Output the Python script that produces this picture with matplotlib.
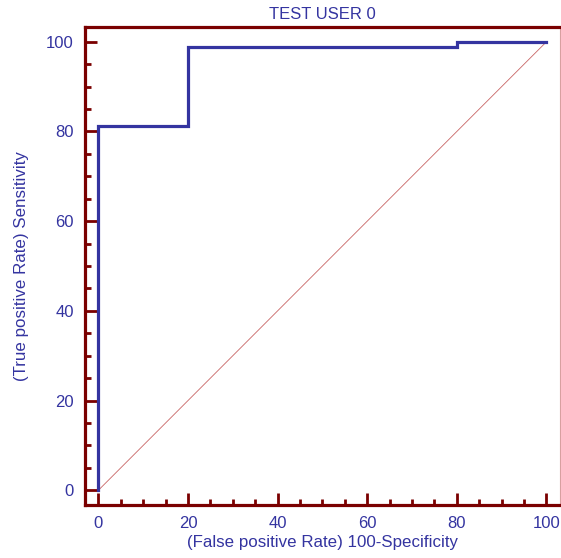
import matplotlib.pyplot as plt
from matplotlib.ticker import MultipleLocator

plt.rcParams['font.family'] = ['Liberation Sans', 'DejaVu Sans']

# ROC step curve points (100-Specificity, Sensitivity)
fpr = [0, 0, 20, 20, 80, 80, 100]
tpr = [0, 81.2, 81.2, 98.9, 98.9, 100, 100]
diag_x = [0, 100]
diag_y = [0, 100]
ticks = [0, 20, 40, 60, 80, 100]

maroon = "#7a0000"
blue = "#3434a0"

fig = plt.figure(figsize=(5.61, 5.58), dpi=100)
ax = fig.add_axes([0.1515, 0.095, 0.8465, 0.8566])

ax.plot(diag_x, diag_y, color="#c86464", lw=0.6)
ax.plot(fpr, tpr, color=blue, lw=2.3, solid_joinstyle="miter")

ax.set_xlim(-3, 103)
ax.set_ylim(-3.3, 103.3)
ax.set_xticks(ticks)
ax.set_yticks(ticks)
ax.xaxis.set_minor_locator(MultipleLocator(5))
ax.yaxis.set_minor_locator(MultipleLocator(5))

for s in ["left", "bottom", "top"]:
    ax.spines[s].set_color(maroon)
    ax.spines[s].set_linewidth(2.3)
ax.spines["right"].set_color("#d8a0a0")
ax.spines["right"].set_linewidth(0.8)

ax.tick_params(which="major", direction="in", length=8.5, width=2, color=maroon,
               labelcolor=blue, labelsize=12, pad=8, top=False, right=False)
ax.tick_params(which="minor", direction="in", length=4, width=2, color=maroon,
               top=False, right=False)

ax.set_title("TEST USER 0", color=blue, fontsize=12, pad=6)
ax.set_xlabel("(False positive Rate) 100-Specificity", color=blue, fontsize=12.2, labelpad=3)
ax.set_ylabel("(True positive Rate) Sensitivity", color=blue, fontsize=12.2, labelpad=12)

fig.savefig("out.png", dpi=100)
